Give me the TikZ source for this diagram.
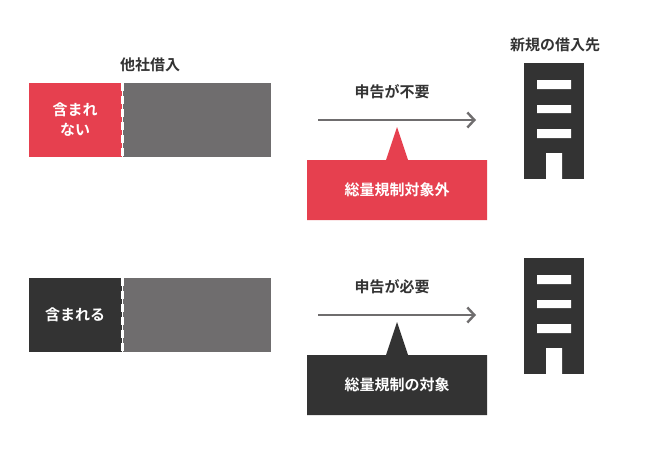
\documentclass[tikz,border=0pt]{standalone}
\usepackage{fontspec}
\setmainfont{Noto Sans CJK JP}[BoldFont={Noto Sans CJK JP Bold}]
\usetikzlibrary{arrows.meta}
\definecolor{cred}{HTML}{E6404F}
\definecolor{cgray}{HTML}{6F6D6E}
\definecolor{cdark}{HTML}{333333}
\begin{document}
\begin{tikzpicture}[x=1pt,y=-1pt,
  lbl/.style={font=\bfseries\fontsize{15}{17}\selectfont,text=cdark},
  wlbl/.style={font=\bfseries\fontsize{15}{20}\selectfont,text=white,align=center},
  arr/.style={draw=cgray,line width=2.4pt,-{Straight Barb[length=7pt,width=15pt]}}]
\useasboundingbox[fill=white] (0,0) rectangle (650,450);
\foreach \dy/\col/\txt/\ctxt/\note in {0/cred/{含まれ\\ない}/総量規制対象外/申告が不要,195/cdark/{含まれる}/総量規制の対象/申告が必要}{
  \begin{scope}[yshift=-\dy]
  \fill[cgray] (123,83) rectangle (271,157);
  \fill[\col] (29,83) rectangle (122,157);
  \node[wlbl] (in\dy) at (75,120) {\txt};
  \draw[white,line width=3pt,dash pattern=on 8pt off 5pt] (122,83) -- (122,157);
  \coordinate (a\dy) at (318,120);
  \coordinate (b\dy) at (476,120);
  \draw[arr] (a\dy) -- (b\dy);
  \node[lbl] (n\dy) at (392,92) {\note};
  \fill[\col] (307,160) rectangle (487,220) (386,160) -- (397,127) -- (408,160) -- cycle;
  \node[wlbl] (c\dy) at (397,190) {\ctxt};
  \fill[cdark] (524,63) rectangle (584,179);
  \fill[white] (537,80) rectangle (571,89) (537,105) rectangle (571,113) (537,129) rectangle (571,138) (546,153) rectangle (562,180);
  \end{scope}
}
\node[lbl] (t1) at (150,65) {他社借入};
\node[lbl] (t2) at (555,45) {新規の借入先};
\end{tikzpicture}
\end{document}
